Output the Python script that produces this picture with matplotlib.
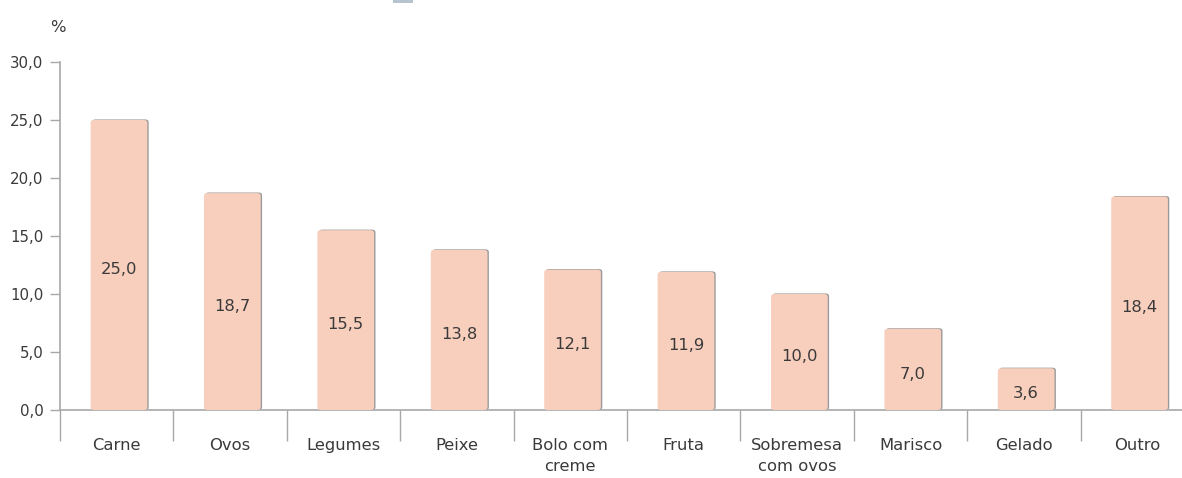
import matplotlib
matplotlib.use("Agg")
import matplotlib.pyplot as plt
from matplotlib.patches import FancyBboxPatch, Rectangle

categories = ["Carne", "Ovos", "Legumes", "Peixe", "Bolo com\ncreme", "Fruta",
              "Sobremesa\ncom ovos", "Marisco", "Gelado", "Outro"]
values = [25.0, 18.7, 15.5, 13.8, 12.1, 11.9, 10.0, 7.0, 3.6, 18.4]
yticks = [0, 5, 10, 15, 20, 25, 30]

W, H = 1182, 478
fig = plt.figure(figsize=(W / 100, H / 100), dpi=100)
plt.rcParams['font.family'] = ['DejaVu Sans']

# axes in pixel terms: x spine at 60px, 0 at y=410, 30 at y=62
step = 113.4
left, bottom, top = 60, 410, 62
ax = fig.add_axes([left / W, (H - bottom) / H, 10 * step / W, (bottom - top) / H])
ax.set_xlim(-0.5, 9.5)
ax.set_ylim(0, 30)

bar_col = '#F8CEBD'
shadow = '#9A9A9A'
txt = '#3a3a3a'
grey = '#A8A8A8'
fs = 11.8

bw = 0.5
for i, v in enumerate(values):
    x0 = i - bw / 2 + 0.02
    # shadow
    ax.add_patch(FancyBboxPatch((x0 + 0.012, 0), bw, v + 0.05,
                                boxstyle="round,pad=0,rounding_size=0.03",
                                mutation_aspect=8, fc=shadow, ec='none', zorder=2))
    ax.add_patch(FancyBboxPatch((x0, 0), bw, v,
                                boxstyle="round,pad=0,rounding_size=0.03",
                                mutation_aspect=8, fc=bar_col, ec='none', zorder=3))
    ax.text(i + 0.02, v / 2 - 0.4, f"{v:.1f}".replace('.', ','), ha='center', va='center',
            fontsize=fs, color=txt, zorder=4)

for s in ['top', 'right']:
    ax.spines[s].set_visible(False)
for s in ['left', 'bottom']:
    ax.spines[s].set_color(grey)
    ax.spines[s].set_linewidth(1.2)

ax.set_yticks(yticks)
ax.set_yticklabels([f"{t:.1f}".replace('.', ',') for t in yticks], fontsize=10.8, color=txt)
ax.tick_params(axis='y', direction='out', length=7, width=1, color=grey, pad=5)

ax.set_xticks(range(len(categories)))
ax.set_xticklabels(categories, fontsize=fs, color=txt, linespacing=1.5)
ax.tick_params(axis='x', which='major', length=0, pad=20)
ax.set_xticks([i - 0.5 for i in range(len(categories) + 1)], minor=True)
ax.tick_params(axis='x', which='minor', direction='out', length=22, width=1, color=grey)

fig.text(58 / W, 1 - 27 / H, '%', fontsize=fs, color=txt, ha='center', va='center')

# legend swatch cut off at the top edge
fig.add_artist(Rectangle((393 / W, 1 - 3 / H), 20 / W, 3 / H, transform=fig.transFigure,
                         fc='#B7C3CF', ec='none'))

fig.savefig('out.png', dpi=100)
